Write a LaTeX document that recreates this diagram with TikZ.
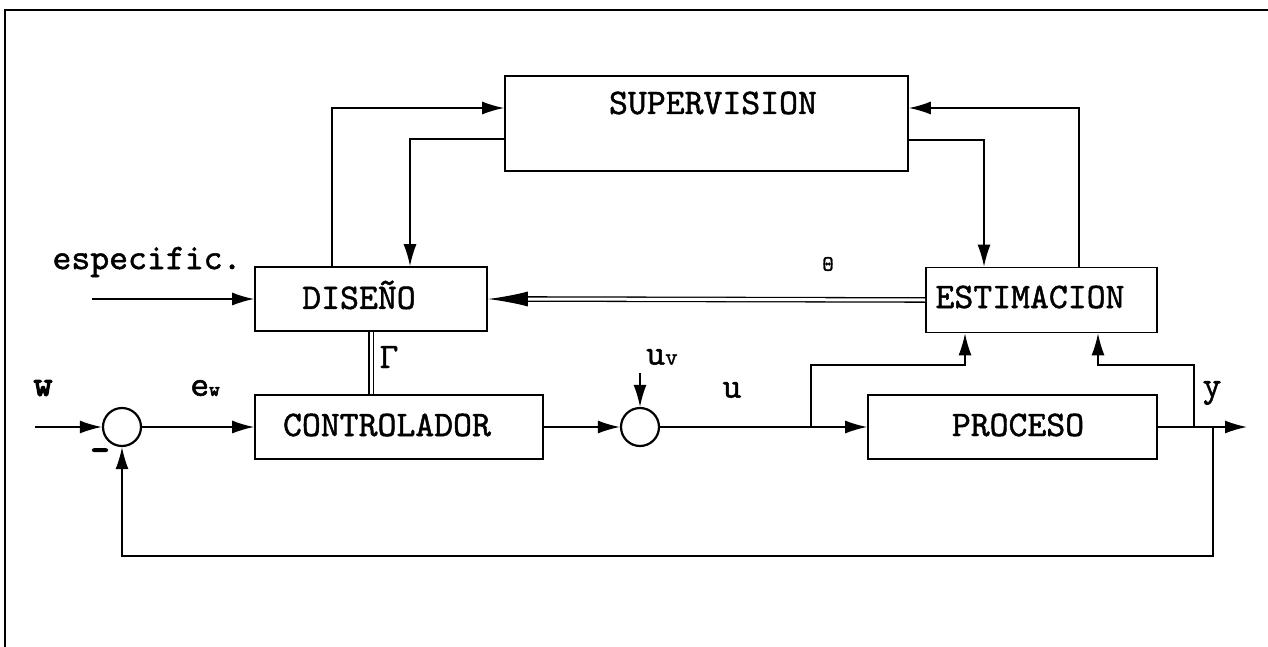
\documentclass[tikz,border=0pt]{standalone}
\usepackage{fontspec}
\newfontfamily\reff{lmmono10-regular.otf}[FakeBold=1.3]
\newfontfamily\refb{lmmono10-regular.otf}[FakeBold=3.5]
\usetikzlibrary{arrows.meta,calc}
\begin{document}
\begin{tikzpicture}[x=1pt,y=-1pt,
  box/.style={draw, line width=1.6pt, inner sep=0pt},
  txt/.style={inner sep=0pt, font=\reff\fontsize{36}{36}\selectfont},
  sumc/.style={draw, circle, line width=2.2pt, minimum size=38pt, inner sep=0pt},
  conn/.style={draw, line width=1.6pt},
  arr/.style={conn, -{Latex[length=22pt,width=13pt]}},
  dbl/.style={draw, line width=1.3pt, double distance=3pt},
  bigarr/.style={draw, line width=1.5pt, -{Latex[length=40pt,width=15pt]}},
  framel/.style={draw, line width=2pt}]
\useasboundingbox (0,0) rectangle (1268,647);
% frame
\coordinate (f1) at (1268,10);
\coordinate (f2) at (5,10);
\coordinate (f3) at (5,647);
\draw[framel] (f1) -- (f2) -- (f3);
% blocks
\node[box, minimum width=403pt, minimum height=95pt] (S) at (706.5,123.5) {};
\node[txt] (St) at (713,103) {SUPERVISION};
\node[box, minimum width=232pt, minimum height=64pt] (D) at (371,299) {};
\node[txt] (Dt) at (359,295) {DISEÑO};
\node[box, minimum width=231pt, minimum height=65pt] (E) at (1041.5,300) {};
\node[txt] (Et) at (1030,297) {ESTIMACION};
\node[box, minimum width=288pt, minimum height=64pt] (C) at (399,427) {};
\node[txt] (Ct) at (387,425) {CONTROLADOR};
\node[box, minimum width=289pt, minimum height=64pt] (P) at (1012.5,427) {};
\node[txt] (Pt) at (1018,425) {PROCESO};
\node[sumc] (s1) at (122,427) {};
\node[sumc] (s2) at (640,427) {};
% labels
\node[txt] (lspec) at (147,262) {especific.};
\node[txt] (lw) at (43,388) {\refb w};
\node[txt] (lew) at (205,388) {e{\refb\fontsize{20}{20}\selectfont w}};
\node[txt] (lminus) at (100,455) {\refb -};
\node[txt] (luv) at (662,357) {u{\fontsize{24}{24}\selectfont v}};
\node[txt] (lu) at (732,390) {u};
\node[txt] (ly) at (1212,393) {y};
\node[txt] (lth) at (828,264) {\fontsize{22}{22}\selectfont Θ};
\node[txt] (lga) at (389,357) {Γ};
% input connectors
\coordinate (spec) at (92,299);
\draw[arr] (spec) -- (D.west);
\coordinate (win) at (35,427);
\draw[arr] (win) -- (s1.west);
\draw[arr] (s1.east) -- (C.west);
\draw[arr] (C.east) -- (s2.west);
\coordinate (uv) at (640,373);
\draw[arr] (uv) -- (s2.north);
\draw[arr] (s2.east) -- (P.west);
% u to estimation
\coordinate (j1) at (811,427);
\coordinate (ja) at (811,365);
\coordinate (jb) at (965,365);
\draw[arr] (j1) -- (ja) -- (jb) -- (E.south -| jb);
% y to estimation
\coordinate (j2) at (1194,427);
\coordinate (jc) at (1194,365);
\coordinate (jd) at (1098,365);
\draw[arr] (j2) -- (jc) -- (jd) -- (E.south -| jd);
% output
\coordinate (out) at (1247,427);
\draw[arr] (P.east) -- (out);
% feedback
\coordinate (j3) at (1213,427);
\coordinate (fa) at (1213,556);
\coordinate (fb) at (122,556);
\draw[arr] (j3) -- (fa) -- (fb) -- (s1.south);
% supervision links
\coordinate (da) at (332,108);
\draw[arr] (D.north -| da) -- (da) -- (S.west |- da);
\coordinate (db) at (410,139);
\draw[arr] (S.west |- db) -- (db) -- (D.north -| db);
\coordinate (ea) at (984,140);
\draw[arr] (S.east |- ea) -- (ea) -- (E.north -| ea);
\coordinate (eb) at (1079,108);
\draw[arr] (E.north -| eb) -- (eb) -- (S.east |- eb);
% double lines
\coordinate (tipd) at ($(D.east)+(40,0)$);
\draw[dbl] (E.west) -- (tipd);
\draw[bigarr] (tipd) -- (D.east);
\draw[dbl] (D.south) -- (C.north -| D.south);
\end{tikzpicture}
\end{document}
